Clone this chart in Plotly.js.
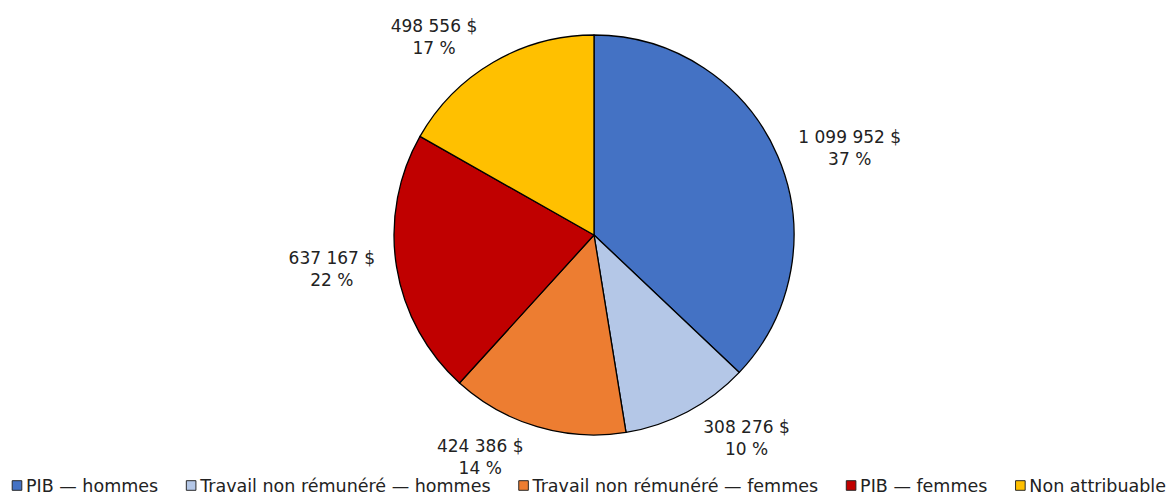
<!DOCTYPE html>
<html>
<head>
<meta charset="utf-8">
<script src="https://cdn.plot.ly/plotly-3.0.1.min.js"></script>
<style>
html,body{margin:0;padding:0;background:#fff;}
#chart{width:1173px;height:496px;}
</style>
</head>
<body>
<div id="chart"></div>
<script>
const labels = ["PIB — hommes", "Travail non rémunéré — hommes", "Travail non rémunéré — femmes", "PIB — femmes", "Non attribuable"];
const values = [1099952, 308276, 424386, 637167, 498556];
const percentLabels = ["37 %", "10 %", "14 %", "22 %", "17 %"];
const colors = ["#4472C4", "#B4C7E7", "#ED7D31", "#C00000", "#FFC000"];

const W = 1173, H = 496;
const cx = 594, cy = 235, r = 200;
const rText = 211;
const FONT = "Verdana, 'DejaVu Sans', sans-serif";

function domainFor(rad) {
  return { x: [(cx - rad) / W, (cx + rad) / W], y: [1 - (cy + rad) / H, 1 - (cy - rad) / H] };
}

const pieTrace = {
  type: "pie",
  labels: labels,
  values: values,
  sort: false,
  direction: "clockwise",
  rotation: 0,
  marker: { colors: colors, line: { color: "#000", width: 1.3 } },
  textposition: "none",
  hoverinfo: "label+value",
  automargin: false,
  domain: domainFor(r)
};

const labelTrace = {
  type: "pie",
  labels: labels,
  values: values,
  customdata: percentLabels,
  sort: false,
  direction: "clockwise",
  rotation: 0,
  showlegend: false,
  marker: { colors: labels.map(() => "rgba(0,0,0,0)"), line: { width: 0 } },
  textposition: "outside",
  texttemplate: "%{value:,.0f} $<br>%{customdata}",
  outsidetextfont: { family: FONT, size: 17, color: "#222" },
  textfont: { family: FONT, size: 17, color: "#222" },
  hoverinfo: "skip",
  automargin: false,
  domain: domainFor(rText)
};

const layout = {
  width: W, height: H,
  margin: { l: 0, r: 0, t: 0, b: 0 },
  separators: ", ",
  paper_bgcolor: "#fff",
  showlegend: true,
  legend: {
    orientation: "h",
    x: 0, xanchor: "left",
    y: 0, yanchor: "bottom",
    font: { family: FONT, size: 17.5, color: "#222" },
    itemwidth: 30,
    traceorder: "normal",
    bgcolor: "rgba(0,0,0,0)"
  },
  font: { family: FONT }
};

function compactLegend(gd) {
  const leg = gd.querySelector("g.legend");
  if (!leg) return;
  leg.setAttribute("transform", "translate(0,485.5)");
  const bg = leg.querySelector("rect.bg");
  if (bg) bg.setAttribute("width", "0");
  const sb = leg.querySelector("g.scrollbox");
  if (sb) { sb.removeAttribute("clip-path"); sb.setAttribute("transform", "translate(0,0)"); }
  leg.querySelectorAll("g.groups").forEach(g => g.setAttribute("transform", "translate(0,0)"));
  const items = leg.querySelectorAll("g.traces");
  let X = 12;
  items.forEach(it => {
    it.setAttribute("transform", "translate(" + X + ",0)");
    const sym = it.querySelector("path.legendpie") || it.querySelector(".legendpoints path");
    if (sym) {
      sym.setAttribute("transform", "translate(5,0) scale(0.8)");
      sym.style.strokeWidth = "1.2px";
      sym.style.stroke = "#222";
    }
    const txt = it.querySelector("text.legendtext");
    let tw = 100;
    if (txt) {
      txt.setAttribute("x", "14");
      tw = txt.getComputedTextLength();
    }
    X += 14 + tw + 28;
  });
}

Plotly.newPlot("chart", [pieTrace, labelTrace], layout, { displayModeBar: false, staticPlot: true })
  .then(gd => compactLegend(gd));
</script>
</body>
</html>
